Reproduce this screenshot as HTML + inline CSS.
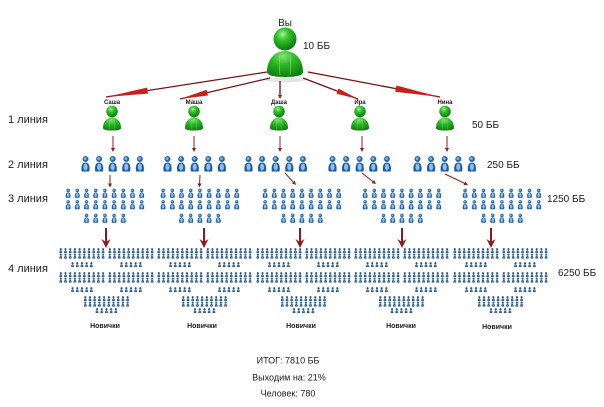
<!DOCTYPE html>
<html><head><meta charset="utf-8">
<style>
html,body{margin:0;padding:0;background:#fff;}
svg{display:block}
text{font-family:"Liberation Sans","DejaVu Sans",sans-serif;fill:#1c1c1c}
</style></head>
<body>
<svg width="604" height="407" viewBox="0 0 604 407" xmlns="http://www.w3.org/2000/svg" xmlns:xlink="http://www.w3.org/1999/xlink">
<defs>
  <radialGradient id="gh" cx="0.4" cy="0.3" r="0.75">
    <stop offset="0" stop-color="#a6f296"/>
    <stop offset="0.35" stop-color="#33c22c"/>
    <stop offset="1" stop-color="#067209"/>
  </radialGradient>
  <radialGradient id="gb" cx="0.45" cy="0.2" r="0.95">
    <stop offset="0" stop-color="#80e472"/>
    <stop offset="0.35" stop-color="#2cb826"/>
    <stop offset="1" stop-color="#056e08"/>
  </radialGradient>
  <symbol id="gp" viewBox="0 0 40 50">
    <path d="M2,45 C2,32 10,24 20,24 C30,24 38,32 38,45 Q38,50 20,50 Q2,50 2,45 Z" fill="url(#gb)"/>
    <path d="M15,27 C14,34 14,40 15,48 M25,27 C26,34 26,40 25,48" stroke="#9be890" stroke-width="0.8" fill="none" opacity="0.6"/>
    <circle cx="20" cy="12" r="11.5" fill="url(#gh)"/>
  </symbol>
  <symbol id="bp" viewBox="0 0 10 17">
    <path d="M1.2,16.5 C0.4,12 1.2,7.5 5,7.5 C8.8,7.5 9.6,12 8.8,16.5 Z" fill="#1c5797"/>
    <ellipse cx="5" cy="12" rx="2.1" ry="3.5" fill="#86c2f0"/>
    <circle cx="5" cy="4" r="3" fill="#2766aa"/>
    <circle cx="4.6" cy="3.6" r="1.3" fill="#86bdea"/>
  </symbol>
  <symbol id="bq" viewBox="0 0 10 17">
    <path d="M0.8,16.5 C0.3,12 1.2,7.5 5,7.5 C8.8,7.5 9.7,12 9.2,16.5 Z" fill="#1a4a80"/>
    <ellipse cx="5" cy="12" rx="1.6" ry="2.8" fill="#5f9bd0"/>
    <circle cx="5" cy="4" r="3.4" fill="#214f85"/>
  </symbol>
  <pattern id="p2" width="13.6" height="17" patternUnits="userSpaceOnUse"><use href="#bp" xlink:href="#bp" x="0" y="0" width="11" height="17"/></pattern>
  <pattern id="p3" width="9.2" height="11.5" patternUnits="userSpaceOnUse"><use href="#bp" xlink:href="#bp" x="0" y="0" width="6.2" height="10"/></pattern>
  <pattern id="p4" width="4.7" height="5.5" patternUnits="userSpaceOnUse"><use href="#bq" xlink:href="#bq" x="0" y="0" width="3.6" height="5.3"/></pattern>
</defs>

<!-- Top person -->
<ellipse cx="285" cy="80" rx="20" ry="2.5" fill="#e4e4e4"/>
<text x="285" y="26" font-size="10" text-anchor="middle">Вы</text>
<use href="#gp" xlink:href="#gp" x="265" y="27" width="40" height="50"/>
<text x="303" y="49" font-size="10">10 ББ</text>

<!-- Top arrows -->
<g stroke="#7a1010" stroke-width="1.3" fill="none">
  <line x1="267" y1="72" x2="106" y2="97"/>
  <line x1="270" y1="78" x2="180" y2="99"/>
  <line x1="280" y1="81" x2="280" y2="97"/>
  <line x1="303" y1="78" x2="358" y2="99"/>
  <line x1="308" y1="72" x2="440" y2="97"/>
</g>
<g fill="#c8201c">
  <polygon points="106,97 147,87.6 148,93.6"/>
  <polygon points="180,99 206.6,89.7 208,95.5"/>
  <polygon points="358,99 336.5,93.8 338.5,88.5"/>
  <polygon points="440,97 395.2,91.75 396.4,85.45"/>
  <polygon points="278,95 282,95 280,99" fill="#8b1a1a"/>
</g>

<!-- Level 1 -->
<g font-size="6" font-weight="bold" text-anchor="middle">
  <text x="112" y="104">Саша</text>
  <text x="194" y="104">Маша</text>
  <text x="279" y="104">Даша</text>
  <text x="360" y="104">Ира</text>
  <text x="445" y="104">Нина</text>
</g>
<use href="#gp" xlink:href="#gp" x="102" y="105.5" width="20" height="25"/>
<use href="#gp" xlink:href="#gp" x="184" y="105.5" width="20" height="25"/>
<use href="#gp" xlink:href="#gp" x="269" y="105.5" width="20" height="25"/>
<use href="#gp" xlink:href="#gp" x="350" y="105.5" width="20" height="25"/>
<use href="#gp" xlink:href="#gp" x="435" y="105.5" width="20" height="25"/>

<text x="8" y="123" font-size="11">1 линия</text>
<text x="472" y="128" font-size="10">50 ББ</text>

<!-- L1 -> L2 arrows -->
<g stroke="#8b2020" stroke-width="1">
  <line x1="113" y1="136" x2="113" y2="149"/>
  <line x1="194" y1="136" x2="194" y2="149"/>
  <line x1="280" y1="136" x2="280" y2="149"/>
  <line x1="362" y1="136" x2="362" y2="149"/>
  <line x1="447" y1="136" x2="447" y2="149"/>
</g>
<g fill="#8b2020">
  <polygon points="111,148 115,148 113,152"/>
  <polygon points="192,148 196,148 194,152"/>
  <polygon points="278,148 282,148 280,152"/>
  <polygon points="360,148 364,148 362,152"/>
  <polygon points="445,148 449,148 447,152"/>
</g>

<!-- Level 2 -->
<rect transform="translate(80,155)" width="68" height="17" fill="url(#p2)"/>
<rect transform="translate(162,155)" width="68" height="17" fill="url(#p2)"/>
<rect transform="translate(243,155)" width="68" height="17" fill="url(#p2)"/>
<rect transform="translate(327,155)" width="68" height="17" fill="url(#p2)"/>
<rect transform="translate(412,155)" width="68" height="17" fill="url(#p2)"/>
<text x="8" y="168" font-size="11">2 линия</text>
<text x="487" y="168" font-size="10">250 ББ</text>

<!-- L2 -> L3 arrows -->
<g stroke="#8b2020" stroke-width="1">
  <line x1="110" y1="175" x2="110" y2="185"/>
  <line x1="200" y1="175" x2="199.5" y2="185"/>
  <line x1="285" y1="173" x2="294" y2="183"/>
  <line x1="362" y1="173" x2="374" y2="182.5"/>
  <line x1="445" y1="174" x2="466" y2="184"/>
</g>
<g fill="#8b2020">
  <polygon points="108,183.5 112,183.5 110,187.5"/>
  <polygon points="197.5,183.5 201.5,183.5 199.5,187.5"/>
  <polygon points="296,185 291.8,183.4 294.8,180.7"/>
  <polygon points="376,184 371.6,183.1 374.1,179.9"/>
  <polygon points="468,185 463.5,185.1 465.3,181.5"/>
</g>

<!-- Level 3 -->
<g>
  <rect transform="translate(65,188)" width="82.8" height="23" fill="url(#p3)"/>
  <rect transform="translate(83.4,213)" width="46" height="11.5" fill="url(#p3)"/>
  <rect transform="translate(160,188)" width="82.8" height="23" fill="url(#p3)"/>
  <rect transform="translate(178.4,213)" width="46" height="11.5" fill="url(#p3)"/>
  <rect transform="translate(262,188)" width="82.8" height="23" fill="url(#p3)"/>
  <rect transform="translate(280.4,213)" width="46" height="11.5" fill="url(#p3)"/>
  <rect transform="translate(362,188)" width="82.8" height="23" fill="url(#p3)"/>
  <rect transform="translate(380.4,213)" width="46" height="11.5" fill="url(#p3)"/>
  <rect transform="translate(462,188)" width="82.8" height="23" fill="url(#p3)"/>
  <rect transform="translate(480.4,213)" width="46" height="11.5" fill="url(#p3)"/>
</g>
<text x="8" y="202" font-size="11">3 линия</text>
<text x="547" y="202" font-size="10">1250 ББ</text>

<!-- L3 -> L4 thick arrows -->
<g stroke="#8b1a1a" stroke-width="2">
  <line x1="106" y1="228" x2="106" y2="242"/>
  <line x1="204" y1="228" x2="204" y2="242"/>
  <line x1="300" y1="228" x2="300" y2="242"/>
  <line x1="402" y1="228" x2="402" y2="242"/>
  <line x1="491" y1="228" x2="491" y2="242"/>
</g>
<g fill="#8b1a1a">
  <polygon points="101.5,239 106,248 110.5,239 106,242"/>
  <polygon points="199.5,239 204,248 208.5,239 204,242"/>
  <polygon points="295.5,239 300,248 304.5,239 300,242"/>
  <polygon points="397.5,239 402,248 406.5,239 402,242"/>
  <polygon points="486.5,239 491,248 495.5,239 491,242"/>
</g>

<!-- Level 4 columns -->
<g id="c1">
  <rect transform="translate(59,248)" width="47" height="11" fill="url(#p4)"/>
  <rect transform="translate(108,248)" width="47" height="11" fill="url(#p4)"/>
  <rect transform="translate(70.75,262)" width="23.5" height="5.5" fill="url(#p4)"/>
  <rect transform="translate(119.75,262)" width="23.5" height="5.5" fill="url(#p4)"/>
  <rect transform="translate(59,272)" width="47" height="11" fill="url(#p4)"/>
  <rect transform="translate(108,272)" width="47" height="11" fill="url(#p4)"/>
  <rect transform="translate(70.75,287)" width="23.5" height="5.5" fill="url(#p4)"/>
  <rect transform="translate(119.75,287)" width="23.5" height="5.5" fill="url(#p4)"/>
  <rect transform="translate(83.5,296)" width="47" height="11" fill="url(#p4)"/>
  <rect transform="translate(95.25,308)" width="23.5" height="5.5" fill="url(#p4)"/>
</g>
<use href="#c1" xlink:href="#c1" x="98"/>
<use href="#c1" xlink:href="#c1" x="197"/>
<use href="#c1" xlink:href="#c1" x="295"/>
<use href="#c1" xlink:href="#c1" x="394"/>

<text x="8" y="272" font-size="11">4 линия</text>
<text x="558" y="276" font-size="10">6250 ББ</text>

<g font-size="7" font-weight="bold" text-anchor="middle">
  <text x="105" y="328">Новички</text>
  <text x="202" y="328">Новички</text>
  <text x="301" y="328">Новички</text>
  <text x="401" y="328">Новички</text>
  <text x="497" y="329">Новички</text>
</g>

<!-- Summary -->
<g font-size="9" text-anchor="middle">
  <text x="288" y="363.5">ИТОГ:  7810 ББ</text>
  <text x="289" y="380.5">Выходим на: 21%</text>
  <text x="288" y="396.5">Человек: 780</text>
</g>
</svg>
</body></html>
